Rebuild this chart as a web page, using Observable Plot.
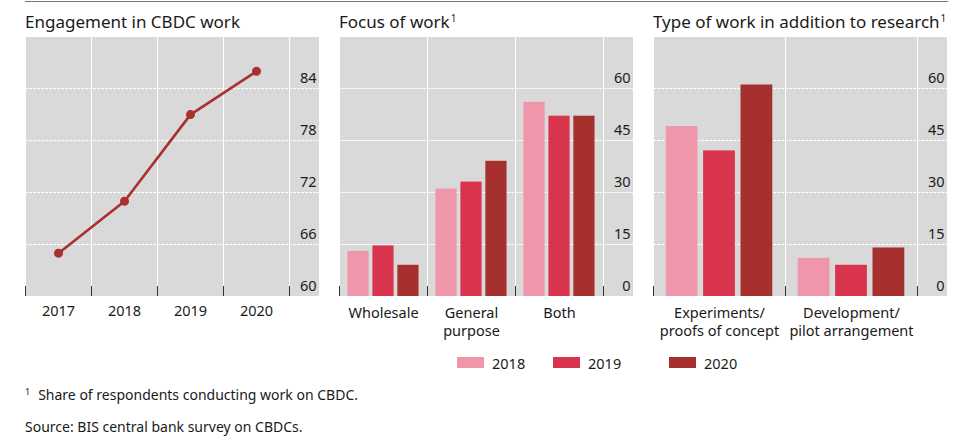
<!DOCTYPE html>
<html>
<head>
<meta charset="utf-8">
<script src="https://cdn.jsdelivr.net/npm/d3@7"></script>
<script src="https://cdn.jsdelivr.net/npm/@observablehq/plot@0.6"></script>
<style>
  body { margin: 0; background: #fff; font-family: "Noto Sans", sans-serif; color: #1a1a1a; }
  #chart { position: relative; width: 975px; height: 441px; overflow: hidden; }
  .topline { position: absolute; left: 25px; top: 1px; width: 923px; border-top: 1.5px solid #777; }
  .title { position: absolute; top: 13px; font-size: 17px; line-height: 17px; white-space: nowrap; }
  .title sup { font-size: 10px; vertical-align: top; position: relative; top: -3px; margin-left: 1px; }
  .panel { position: absolute; top: 37px; }
  .panel svg { display: block; overflow: visible; max-width: none; }
  .legend { position: absolute; top: 354px; font-size: 14.5px; line-height: 18px; }
  .legend .item { position: absolute; white-space: nowrap; }
  .legend .sw { position: absolute; top: 3px; width: 27px; height: 11px; }
  .legend .lab { position: absolute; top: 0; }
  .note { position: absolute; left: 25px; font-size: 14px; line-height: 16px; white-space: nowrap; }
  .note sup { font-size: 9px; vertical-align: top; position: relative; top: -3px; margin-right: 8px; }
</style>
</head>
<body>
<div id="chart">
  <div class="topline"></div>
  <div class="title" style="left:25px">Engagement in CBDC work</div>
  <div class="title" style="left:339px">Focus of work<sup>1</sup></div>
  <div class="title" style="left:653px">Type of work in addition to research<sup>1</sup></div>
  <div class="panel" id="p1" style="left:25px"></div>
  <div class="panel" id="p2" style="left:339px"></div>
  <div class="panel" id="p3" style="left:653px"></div>
  <div class="legend" id="legend"></div>
  <div class="note" style="top:387px"><sup>1</sup>Share of respondents conducting work on CBDC.</div>
  <div class="note" style="top:419px">Source: BIS central bank survey on CBDCs.</div>
</div>
<script>
// ---- data ----
const engagementYears = [2017, 2018, 2019, 2020];
const engagementValues = [65, 71, 81, 86];
const engagementTicks = [60, 66, 72, 78, 84];

const surveyYears = ["2018", "2019", "2020"];
const yearColors = ["#f096ab", "#d8344d", "#a6302e"];

const focusCategories = ["Wholesale", "General\npurpose", "Both"];
const focus2018 = [13, 31, 56];
const focus2019 = [14.6, 33, 52];
const focus2020 = [9, 39, 52];

const typeCategories = ["Experiments/\nproofs of concept", "Development/\npilot arrangement"];
const type2018 = [49, 11];
const type2019 = [42, 9];
const type2020 = [61, 14];

const shareTicks = [0, 15, 30, 45, 60];

// ---- layout constants ----
const panelWidth = 294;
const labelArea = 30;
const plotHeight = 259;
const bottomArea = 46;
const gray = "#d9d9d9";
const fontFamily = '"Noto Sans", sans-serif';

function baseStyle() {
  return {
    fontFamily,
    fontSize: "14.5px",
    color: "#1a1a1a",
    background: `linear-gradient(${gray} 0 ${plotHeight}px, transparent ${plotHeight}px)`,
    overflow: "visible"
  };
}

// ---- panel 1: line ----
const engagement = engagementYears.map((year, i) => ({year, value: engagementValues[i]}));
const yearBounds = [...engagementYears.map(y => y - 0.5), engagementYears[engagementYears.length - 1] + 0.5];

const p1 = Plot.plot({
  width: panelWidth,
  height: plotHeight + bottomArea,
  marginTop: 0,
  marginLeft: 0,
  marginRight: labelArea,
  marginBottom: bottomArea,
  style: baseStyle(),
  x: {type: "linear", domain: [yearBounds[0], yearBounds[yearBounds.length - 1]], label: null},
  y: {domain: [60, 89.9], label: null},
  marks: [
    Plot.ruleY(engagementTicks.slice(1), {stroke: "#fff", strokeWidth: 1, strokeDasharray: "3,1", insetRight: -labelArea}),
    Plot.ruleX(yearBounds, {stroke: "#fff", strokeWidth: 1}),
    Plot.ruleX(yearBounds, {stroke: "#333", strokeWidth: 1, insetTop: plotHeight - 10}),
    Plot.axisY({ticks: engagementTicks, anchor: "right", label: null, tickSize: 0, tickPadding: 27, textAnchor: "end", dy: -10, fontSize: 14.5}),
    Plot.axisX({ticks: engagementYears, label: null, tickSize: 0, tickPadding: 9, tickFormat: d => String(d), fontSize: 14.5}),
    Plot.line(engagement, {x: "year", y: "value", stroke: "#a8302e", strokeWidth: 2.6}),
    Plot.dot(engagement, {x: "year", y: "value", r: 4.5, fill: "#a8302e"})
  ]
});
document.getElementById("p1").append(p1);

// ---- grouped bar panels ----
const inner = d3.scaleBand().domain(surveyYears).range([0, 1]).paddingInner(0.15).paddingOuter(0.34);

function barPanel(categories, series) {
  const rows = categories.flatMap((category, i) =>
    surveyYears.map((year, j) => ({
      category, year, value: series[j][i],
      x1: i + inner(year), x2: i + inner(year) + inner.bandwidth()
    }))
  );
  const bounds = d3.range(categories.length + 1);
  const centers = categories.map((_, i) => i + 0.5);
  return Plot.plot({
    width: panelWidth,
    height: plotHeight + bottomArea,
    marginTop: 0,
    marginLeft: 0,
    marginRight: labelArea,
    marginBottom: bottomArea,
    style: baseStyle(),
    x: {type: "linear", domain: [0, categories.length], label: null},
    y: {domain: [0, 74.7], label: null},
    color: {domain: surveyYears, range: yearColors},
    marks: [
      Plot.ruleY(shareTicks.slice(1), {stroke: "#fff", strokeWidth: 1, strokeDasharray: "3,1", insetRight: -labelArea}),
      Plot.ruleX(bounds, {stroke: "#fff", strokeWidth: 1}),
      Plot.ruleX(bounds, {stroke: "#333", strokeWidth: 1, insetTop: plotHeight - 10}),
      Plot.rectY(rows, {x1: "x1", x2: "x2", y: "value", fill: "year"}),
      Plot.axisY({ticks: shareTicks, anchor: "right", label: null, tickSize: 0, tickPadding: 27, textAnchor: "end", dy: -10, fontSize: 14.5}),
      Plot.axisX({ticks: centers, label: null, tickSize: 0, tickPadding: 9, tickFormat: (d) => categories[Math.floor(d)], fontSize: 14.5, lineHeight: 1.25})
    ]
  });
}

document.getElementById("p2").append(barPanel(focusCategories, [focus2018, focus2019, focus2020]));
document.getElementById("p3").append(barPanel(typeCategories, [type2018, type2019, type2020]));

// ---- legend ----
const legendX = [457, 553, 669];
const legend = document.getElementById("legend");
surveyYears.forEach((year, i) => {
  const item = document.createElement("div");
  item.className = "item";
  item.style.left = legendX[i] + "px";
  item.innerHTML = `<div class="sw" style="background:${yearColors[i]}"></div><div class="lab" style="left:35px">${year}</div>`;
  legend.append(item);
});
</script>
</body>
</html>
